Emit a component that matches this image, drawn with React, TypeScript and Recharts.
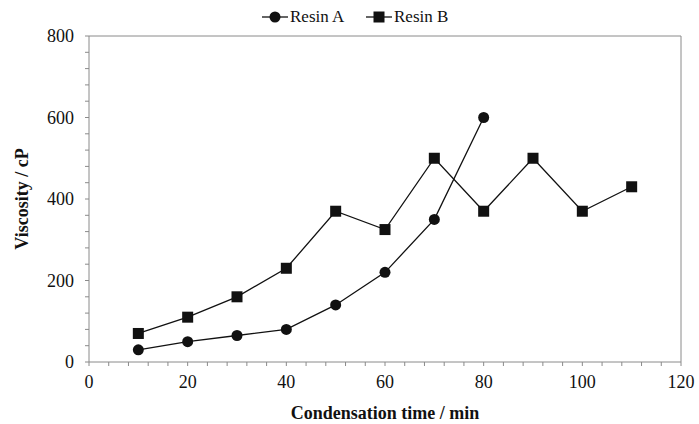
import { Line, LineChart, ReferenceLine, XAxis, YAxis } from 'recharts';

const timeA = [10, 20, 30, 40, 50, 60, 70, 80];
const resinA = [30, 50, 65, 80, 140, 220, 350, 600];
const timeB = [10, 20, 30, 40, 50, 60, 70, 80, 90, 100, 110];
const resinB = [70, 110, 160, 230, 370, 325, 500, 370, 500, 370, 430];

const xTicks = Array.from({ length: 31 }, (_, i) => i * 4);
const yTicks = Array.from({ length: 21 }, (_, i) => i * 40);

const FONT = '"Liberation Serif", "Times New Roman", serif';
const AXIS = '#8a8a8a';
const INK = '#111';

const dataA = timeA.map((t, i) => ({ t, v: resinA[i] }));
const dataB = timeB.map((t, i) => ({ t, v: resinB[i] }));

function Square(props: any) {
  const { cx, cy } = props;
  if (cx == null || cy == null) return null;
  return <rect x={cx - 5.5} y={cy - 5.5} width={11} height={11} fill={INK} />;
}

function Dot(props: any) {
  const { cx, cy } = props;
  if (cx == null || cy == null) return null;
  return <circle cx={cx} cy={cy} r={5.5} fill={INK} />;
}

// legend sits above the plot, outside the chart's layout
function LegendBox() {
  const item = (label: string, square: boolean, left: number) => (
    <span style={{ position: 'absolute', left, top: 0, display: 'flex', alignItems: 'center' }}>
      <svg width={26} height={14}>
        <line x1={0} y1={7} x2={26} y2={7} stroke={INK} strokeWidth={1.3} />
        {square ? (
          <rect x={7.5} y={1.5} width={11} height={11} fill={INK} />
        ) : (
          <circle cx={13} cy={7} r={5.5} fill={INK} />
        )}
      </svg>
      <span style={{ marginLeft: 2 }}>{label}</span>
    </span>
  );
  return (
    <div
      style={{
        position: 'absolute',
        left: 0,
        top: 6,
        width: 699,
        height: 22,
        fontFamily: FONT,
        fontSize: 17,
        color: INK,
        lineHeight: '22px',
      }}
    >
      {item('Resin A', false, 262)}
      {item('Resin B', true, 366)}
    </div>
  );
}

export default function App() {
  return (
    <div style={{ position: 'absolute', left: 0, top: 0, width: 699, height: 424, background: '#fff' }}>
      <LineChart width={699} height={424} margin={{ top: 36, right: 18, bottom: 32, left: 29 }}>
        <XAxis
          type="number"
          dataKey="t"
          domain={[0, 120]}
          ticks={xTicks}
          interval={0}
          height={30}
          stroke={AXIS}
          tickSize={4}
          tickMargin={9}
          tick={{ fill: INK, fontSize: 18, fontFamily: FONT }}
          tickFormatter={(v: number) => (v % 20 === 0 ? String(v) : '')}
          label={{
            value: 'Condensation time / min',
            position: 'insideBottom',
            offset: -27,
            style: { fill: INK, fontSize: 18, fontWeight: 'bold', fontFamily: FONT },
          }}
        />
        <YAxis
          type="number"
          domain={[0, 800]}
          ticks={yTicks}
          interval={0}
          width={60}
          stroke={AXIS}
          tickSize={4}
          tickMargin={11}
          tick={{ fill: INK, fontSize: 18, fontFamily: FONT }}
          tickFormatter={(v: number) => (v % 200 === 0 ? String(v) : '')}
          label={{
            value: 'Viscosity / cP',
            angle: -90,
            position: 'insideLeft',
            offset: -7,
            style: { fill: INK, fontSize: 18, fontWeight: 'bold', fontFamily: FONT, textAnchor: 'middle' },
          }}
        />
        <ReferenceLine y={800} stroke={AXIS} />
        <ReferenceLine x={120} stroke={AXIS} />
        <Line
          data={dataA}
          dataKey="v"
          name="Resin A"
          type="linear"
          stroke={INK}
          strokeWidth={1.3}
          dot={<Dot />}
          isAnimationActive={false}
        />
        <Line
          data={dataB}
          dataKey="v"
          name="Resin B"
          type="linear"
          stroke={INK}
          strokeWidth={1.3}
          dot={<Square />}
          isAnimationActive={false}
        />
      </LineChart>
      <LegendBox />
    </div>
  );
}
